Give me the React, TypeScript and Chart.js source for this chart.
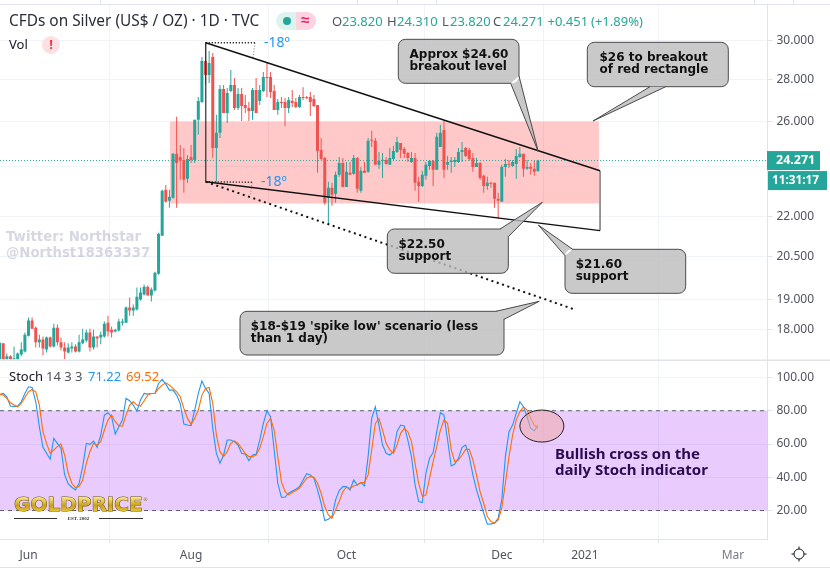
import React, { useEffect, useRef } from "react";
import { Chart, registerables } from "chart.js";

Chart.register(...registerables);

const opens = [17.09,17.58,17.09,17.18,17.09,17.09,17.24,17.33,
17.82,18.30,18.07,17.61,17.70,17.39,17.76,17.48,18.07,17.61,
17.45,17.30,17.42,17.48,17.33,17.58,17.67,17.92,17.45,17.79,
17.76,17.79,18.23,18.01,17.95,17.98,18.23,18.23,18.73,18.63,
18.66,18.99,19.16,19.43,19.13,19.30,19.88,21.26,23.05,22.61,
22.73,24.56,24.43,24.30,23.50,24.43,24.30,26.08,26.92,28.93,
28.23,29.14,24.82,25.49,27.54,26.40,27.44,27.73,26.63,27.30,
26.77,26.63,26.49,27.49,26.96,27.44,28.13,28.13,27.44,26.54,
26.92,26.92,26.63,26.96,26.92,26.68,27.15,27.13,27.15,27.06,
26.77,24.73,24.38,22.73,23.13,22.89,23.67,24.17,23.17,23.75,
23.71,24.38,23.01,23.84,23.80,25.17,25.13,24.09,24.26,24.30,
24.09,24.34,24.64,25.04,24.77,24.60,24.21,24.38,23.38,23.21,
23.63,24.04,24.26,23.88,24.86,25.62,24.09,24.21,24.21,24.21,
24.64,24.82,24.73,24.38,24.00,24.17,23.63,23.21,23.34,23.34,
22.69,22.57,24.00,24.13,24.04,24.13,24.43,24.56,23.92,24.00,
23.92,23.82];
const closes = [17.60,17.09,17.18,17.09,17.12,17.27,17.39,17.85,
18.30,18.04,17.61,17.70,17.42,17.76,17.48,18.07,17.61,17.45,
17.33,17.45,17.48,17.33,17.61,17.70,17.92,17.45,17.79,17.73,
17.85,18.20,17.95,17.92,18.01,18.27,18.27,18.73,18.63,18.73,
19.09,19.23,19.43,19.13,19.33,19.91,21.33,23.01,22.57,22.77,
24.56,24.17,24.26,23.46,24.34,24.30,26.08,26.96,28.93,28.23,
28.83,24.82,25.49,27.54,26.40,27.34,27.73,26.63,27.30,26.73,
26.63,26.49,27.49,26.40,27.49,28.13,28.08,27.39,26.54,26.92,
26.87,26.63,27.01,26.87,26.68,27.15,27.11,27.09,26.92,26.73,
24.69,24.34,22.53,23.13,22.85,23.67,24.17,23.17,23.80,23.67,
24.38,23.09,23.84,23.75,25.13,25.13,24.09,24.26,24.30,24.13,
24.38,24.69,25.08,24.73,24.56,24.38,24.38,23.34,23.21,23.67,
24.09,24.26,23.88,25.31,25.49,23.88,24.21,24.26,24.30,24.64,
24.73,24.47,24.34,24.00,24.17,23.54,23.21,23.34,23.30,22.69,
22.61,24.00,24.13,24.09,24.21,24.47,24.56,23.92,24.00,23.92,
23.80,24.271];
const highs = [17.61,17.58,17.27,17.21,17.48,17.30,17.61,17.92,
18.40,18.40,18.11,17.85,17.79,17.79,17.79,18.20,18.17,17.76,
17.61,17.58,17.61,17.55,17.85,18.04,18.01,18.04,18.01,17.79,
17.95,18.27,18.46,18.11,18.04,18.36,18.36,18.76,19.06,18.83,
19.40,19.40,19.50,19.47,19.40,19.95,21.37,23.05,23.25,23.05,
24.60,26.22,24.95,24.82,24.51,24.95,26.08,27.15,29.14,29.92,
29.45,29.35,26.31,27.73,27.73,27.59,28.48,28.08,27.59,27.59,
27.25,26.92,27.59,28.08,27.73,28.38,28.88,28.38,27.73,27.06,
27.15,27.11,27.15,27.49,27.11,27.25,27.63,27.20,27.39,27.25,
26.77,25.26,24.43,23.38,23.34,23.80,24.43,24.38,24.21,24.21,
24.51,24.43,24.00,24.21,25.26,25.58,25.26,24.64,24.60,24.43,
24.82,24.91,25.31,25.04,24.86,24.64,24.64,24.60,23.59,23.84,
24.21,24.30,24.30,25.49,25.85,26.03,24.47,24.43,24.43,24.82,
25.08,24.86,24.82,24.60,24.38,24.21,23.67,23.59,23.38,23.34,
22.93,24.09,24.34,24.30,24.30,24.77,24.86,24.56,24.30,24.17,
24.26,24.31];
const lows = [17.09,17.09,17.09,17.09,17.09,17.09,17.18,17.30,
17.79,18.04,17.45,17.45,17.21,17.30,17.45,17.45,17.51,17.36,
17.09,17.27,17.30,17.30,17.30,17.55,17.61,17.33,17.39,17.45,
17.55,17.76,17.79,17.76,17.92,17.95,18.14,18.23,18.46,18.46,
18.63,18.95,19.13,19.13,18.93,19.26,19.84,21.26,22.53,22.33,
22.69,22.33,23.46,22.93,23.34,24.17,24.17,25.40,26.87,27.73,
27.83,24.38,23.38,25.26,26.40,25.94,27.39,26.54,26.54,26.03,
26.40,26.03,26.08,26.40,26.77,27.39,27.15,27.11,26.54,26.31,
26.63,25.80,26.40,26.68,26.63,26.63,27.01,27.06,26.26,26.68,
23.75,24.30,22.45,21.67,22.41,22.53,23.59,23.17,23.17,23.67,
23.67,22.93,22.93,23.75,23.75,24.86,24.09,23.92,23.54,24.09,
24.09,24.26,24.60,24.38,24.38,24.21,24.17,23.01,22.57,23.17,
23.46,23.88,23.21,23.88,24.86,23.54,23.88,23.75,24.00,24.17,
24.21,24.43,24.26,23.80,24.00,23.46,22.93,23.05,23.13,22.33,
21.91,22.57,23.59,23.96,24.00,23.50,24.38,23.59,23.88,23.67,
23.63,23.82];

const stochK = [89.8,90.4,88.4,82.8,82.4,82.8,85.4,90.4,
94.4,94,85.4,70.4,58,54.4,50.8,63.4,60.4,57.4,
41.4,36,34,32.4,36.4,46.4,60.4,59.8,61.8,58,
65.4,77.4,78.8,76.4,66,70.4,74.4,87.4,86,83.4,
79.8,86.4,90.4,90,90.4,90.4,96.4,98.8,96,92.4,
92.4,89.4,84.4,72,71.4,71,80.4,90.4,97.8,93.4,
90.4,69.4,54.4,48.4,53.4,62.4,62.4,61.4,59.4,54.4,
53.8,50,53.4,53.8,62.4,72.4,79.8,76.4,56.4,36.4,
28,28,30.4,31.8,32.8,34.4,38.4,42.2,41.4,39.4,
32.4,24.4,14,14.8,16.4,26.4,32,34.4,34.4,32.4,
38.4,35.4,36.8,34.8,52.4,75.4,82.4,71.4,59.4,54.4,
53.4,55.4,67.4,71.4,70.8,62.4,52.4,35.4,25.4,24.8,
42.4,51.4,54.8,67.4,78.8,77.4,62.4,46.8,48,51.4,
58,59.4,52.4,41.4,32.4,25.4,18.4,11.8,12,12.4,
15.4,26.4,52.4,67.4,71.4,78.4,85.4,82.4,76.4,69.4,
68,71.22];
const stochD = [89.8,89.4,87.4,84.8,83.4,82.4,84.4,88,
91.4,92.8,91.4,83.4,67.4,60.4,54.4,56.4,58.4,60,
53.4,42.4,36.4,33.8,34.4,38.4,48.4,55.4,60.4,59.4,
61.4,68.4,74.4,77.4,73.4,71,70.8,77.4,83.4,85.4,
83.4,82.8,86,89.4,90.4,90.4,93.4,95.4,96.8,95.4,
93.4,91.4,88.4,81.4,75.4,71.8,75.4,80.4,89.4,93.4,
94,84.4,65.4,55.4,52.4,55.4,60.4,61.8,60.4,57.4,
54.4,52.4,52.4,53.4,57.4,64.4,72.4,75.4,68.4,52.4,
37.4,31.4,29.4,30.8,32,33.4,36.4,39.4,40.4,40,
36.4,30.4,22.4,17.4,15.4,20.4,25.4,31.4,34,33.4,
34.8,35.4,36.8,36.8,41.4,56.4,72.4,75.4,68.4,60.4,
56.4,54.4,59.4,66.4,69.4,67.4,61.4,48.4,36.4,28.4,
29.4,39.4,49.4,58.4,68.4,74.4,72.4,56.4,49.4,50.4,
53.4,56.8,56.8,50.4,41.4,31.4,24.4,16.4,13.4,12.4,
14.4,21.4,36.4,52.4,65.4,74.4,79.4,82.4,80.4,75.4,
71.4,69.52];

const firstBarIndex = -8;
const priceTicks = [30, 28, 26, 24, 22, 20.5, 19, 18];
const stochTicks = [100, 80, 60, 40, 20];
const timeTickBars = [0, 45, 88, 131, 154, 195];
const timeTickLabels = ["Jun", "Aug", "Oct", "Dec", "2021", "Mar"];
const lastPrice = 24.271;

// trend lines: bar index, price
const upperTrend = [{ x: 49.05, y: 29.88 }, { x: 158.2, y: 23.84 }];
const lowerTrend = [{ x: 49.05, y: 23.38 }, { x: 158.2, y: 21.45 }];
const leftEdge = [{ x: 49.05, y: 29.88 }, { x: 49.05, y: 23.38 }];
const rightEdge = [{ x: 158.2, y: 23.84 }, { x: 158.2, y: 21.45 }];
const spikeTrend = [{ x: 49.05, y: 23.38 }, { x: 151.2, y: 18.66 }];
const upperAngleRun = [{ x: 49.05, y: 29.88 }, { x: 62.7, y: 29.88 }];
const upperAngleDrop = [{ x: 62.7, y: 29.88 }, { x: 62.1, y: 29.08 }];
const lowerAngleRun = [{ x: 49.05, y: 23.38 }, { x: 61.9, y: 23.36 }];
const lowerAngleDrop = [{ x: 61.9, y: 23.36 }, { x: 61.4, y: 22.81 }];
const redRectangle = { x0: 39.16, x1: 157.9, top: 26, bottom: 22.5 };

const UP = "#26a69a";
const DOWN = "#ef5350";
const GRID = "#f0f3fa";
const EDGE = "#e0e3eb";
const TEXT = "#131722";
const UI = "'Noto Sans', sans-serif";
const BOLD = "bold 12px 'DejaVu Sans', sans-serif";

type Callout = {
  box: [number, number, number, number];
  pointer: [number, number, number, number, number, number];
  text: string[];
  tx: number;
  ty: number;
};
const callouts: Callout[] = [
  { box: [398.3, 39.3, 519, 83.3], pointer: [510.7, 83.3, 519, 76, 538.3, 151.7], text: ["Approx $24.60", "breakout level"], tx: 409.5, ty: 55 },
  { box: [587.3, 42.3, 728.3, 86.7], pointer: [650, 86.7, 665.7, 86.7, 593, 121], text: ["$26 to breakout", "of red rectangle"], tx: 599.5, ty: 57.5 },
  { box: [387.3, 229, 508.3, 273.3], pointer: [500, 229, 508.3, 236.7, 542.3, 202.3], text: ["$22.50", "support"], tx: 398.5, ty: 244.5 },
  { box: [565, 249.3, 685.7, 293.3], pointer: [572.7, 249.3, 565, 255.7, 538.3, 225], text: ["$21.60", "support"], tx: 575.7, ty: 264.7 },
  { box: [240, 311.3, 504, 355], pointer: [496, 311.3, 504, 319.3, 539.3, 301.3], text: ["$18-$19 'spike low' scenario (less", "than 1 day)"], tx: 250.7, ty: 326.7 },
];

function drawCallout(ctx: CanvasRenderingContext2D, c: Callout) {
  const [x0, y0, x1, y1] = c.box;
  const [ax, ay, bx, by, tipx, tipy] = c.pointer;
  const r = 7;
  ctx.save();
  ctx.fillStyle = "rgba(187,187,187,0.8)";
  ctx.beginPath();
  ctx.roundRect(x0, y0, x1 - x0, y1 - y0, r);
  ctx.moveTo(ax, ay);
  ctx.lineTo(tipx, tipy);
  ctx.lineTo(bx, by);
  ctx.closePath();
  ctx.fill("nonzero");
  ctx.strokeStyle = "#4a4a4a";
  ctx.lineWidth = 1;
  ctx.beginPath();
  ctx.moveTo(ax, ay);
  ctx.lineTo(tipx, tipy);
  ctx.lineTo(bx, by);
  ctx.stroke();
  // outline of the box, open where the pointer leaves it
  ctx.save();
  ctx.beginPath();
  ctx.rect(0, 0, 830, 570);
  ctx.moveTo(ax, ay);
  ctx.lineTo(tipx, tipy);
  ctx.lineTo(bx, by);
  ctx.closePath();
  ctx.clip("evenodd");
  ctx.beginPath();
  ctx.roundRect(x0, y0, x1 - x0, y1 - y0, r);
  ctx.stroke();
  ctx.restore();
  ctx.fillStyle = "#111";
  ctx.font = BOLD;
  ctx.textBaseline = "middle";
  ctx.textAlign = "left";
  c.text.forEach((t, i) => ctx.fillText(t, c.tx, c.ty + i * 12));
  ctx.restore();
}

function put(ctx: CanvasRenderingContext2D, t: string, x: number, y: number, font: string, color: string, align: CanvasTextAlign = "left") {
  ctx.font = font;
  ctx.fillStyle = color;
  ctx.textAlign = align;
  ctx.textBaseline = "middle";
  ctx.fillText(t, x, y);
}

const overlay = {
  id: "overlay",
  beforeDatasetsDraw(chart: any) {
    const { ctx, scales } = chart;
    const { x, y, yS } = scales;
    ctx.save();
    // red rectangle
    ctx.fillStyle = "rgba(255,0,0,0.21)";
    const rx0 = x.getPixelForValue(redRectangle.x0);
    const rx1 = x.getPixelForValue(redRectangle.x1);
    const ry0 = y.getPixelForValue(redRectangle.top);
    const ry1 = y.getPixelForValue(redRectangle.bottom);
    ctx.fillRect(rx0, ry0, rx1 - rx0, ry1 - ry0);
    // stoch band
    const y80 = yS.getPixelForValue(80);
    const y20 = yS.getPixelForValue(20);
    ctx.fillStyle = "rgba(145,0,245,0.2)";
    ctx.fillRect(0, y80, 767.5, y20 - y80);
    ctx.strokeStyle = "#5d606b";
    ctx.lineWidth = 1;
    ctx.setLineDash([4, 4]);
    ctx.beginPath();
    ctx.moveTo(0, y80); ctx.lineTo(767.5, y80);
    ctx.moveTo(0, y20); ctx.lineTo(767.5, y20);
    ctx.stroke();
    // last price
    const lp = y.getPixelForValue(lastPrice);
    ctx.strokeStyle = UP;
    ctx.setLineDash([1, 2]);
    ctx.beginPath();
    ctx.moveTo(0, lp); ctx.lineTo(767.5, lp);
    ctx.stroke();
    ctx.restore();
  },
  afterDraw(chart: any) {
    const { ctx, scales } = chart;
    const { y, yS, x } = scales;
    ctx.save();
    // frame
    ctx.fillStyle = EDGE;
    ctx.fillRect(0, 4, 830, 1);
    ctx.fillRect(0, 567, 830, 1);
    ctx.fillRect(0, 359.5, 830, 1.5);
    [100, 357, 397, 436, 754, 793].forEach((px) => ctx.fillRect(px, 0, 1, 4));

    // header
    put(ctx, "CFDs on Silver (US$ / OZ) · 1D · TVC", 9, 22, `15.4px ${UI}`, "#2a2e39");
    ctx.fillStyle = "#dcf3ef";
    ctx.beginPath();
    ctx.roundRect(276, 12, 20, 18, [9, 0, 0, 9]);
    ctx.fill();
    ctx.fillStyle = "#fcd3de";
    ctx.beginPath();
    ctx.roundRect(296, 12, 20, 18, [0, 9, 9, 0]);
    ctx.fill();
    ctx.fillStyle = UP;
    ctx.beginPath();
    ctx.arc(287, 21, 4, 0, Math.PI * 2);
    ctx.fill();
    put(ctx, "≈", 305, 21, `bold 15px ${UI}`, "#e91e63", "center");
    const f = `13px ${UI}`;
    const grey = "#50535e";
    put(ctx, "O", 332, 22, f, grey);
    put(ctx, "23.820", 342, 22, f, UP);
    put(ctx, "H", 387, 22, f, grey);
    put(ctx, "24.310", 397, 22, f, UP);
    put(ctx, "L", 442, 22, f, grey);
    put(ctx, "23.820", 450, 22, f, UP);
    put(ctx, "C", 493, 22, f, grey);
    put(ctx, "24.271", 503, 22, f, UP);
    put(ctx, "+0.451", 547.5, 22, f, UP);
    put(ctx, "(+1.89%)", 591, 22, f, UP);

    // Vol
    put(ctx, "Vol", 9, 45, `13px ${UI}`, TEXT);
    ctx.fillStyle = "#fde0e2";
    ctx.beginPath();
    ctx.arc(51, 45, 9, 0, Math.PI * 2);
    ctx.fill();
    put(ctx, "!", 51, 45, `bold 13px ${UI}`, "#f23645", "center");

    // Stoch legend
    put(ctx, "Stoch", 9, 377, f, TEXT);
    put(ctx, "14 3 3", 46, 377, f, grey);
    put(ctx, "71.22", 88, 377, f, "#2196f3");
    put(ctx, "69.52", 126, 377, f, "#ff6d00");

    // angle labels
    put(ctx, "-18º", 264, 43, `14px ${UI}`, "#2196f3");
    put(ctx, "-18º", 261, 182, `14px ${UI}`, "#2196f3");

    // watermark
    put(ctx, "Twitter: Northstar", 6, 238, "bold 13.3px 'DejaVu Sans', sans-serif", "rgba(120,123,160,0.3)");
    put(ctx, "@Northst18363337", 6, 254, "bold 13.3px 'DejaVu Sans', sans-serif", "rgba(120,123,160,0.3)");

    // callouts
    callouts.forEach((c) => drawCallout(ctx, c));

    // ellipse
    const ex = x.getPixelForValue(142.1);
    const ey = yS.getPixelForValue(70.8);
    ctx.beginPath();
    ctx.ellipse(ex, ey, 22, 16, 0, 0, Math.PI * 2);
    ctx.fillStyle = "rgba(240,170,170,0.55)";
    ctx.fill();
    ctx.strokeStyle = "#222";
    ctx.lineWidth = 1;
    ctx.stroke();

    put(ctx, "Bullish cross on the", 555, 455, `bold 15px ${UI}`, "#2a0a50");
    put(ctx, "daily Stoch indicator", 555, 471, `bold 15px ${UI}`, "#2a0a50");

    // logo
    const g = ctx.createLinearGradient(0, 498, 0, 513);
    g.addColorStop(0, "#f5e27a");
    g.addColorStop(0.5, "#c8a218");
    g.addColorStop(1, "#f0d040");
    ctx.font = "bold 20px 'DejaVu Sans', sans-serif";
    ctx.textBaseline = "middle";
    ctx.textAlign = "left";
    ctx.lineWidth = 1;
    ctx.strokeStyle = "#6b5200";
    ctx.strokeText("GOLDPRICE", 14, 505.5);
    ctx.fillStyle = g;
    ctx.fillText("GOLDPRICE", 14, 505.5);
    put(ctx, "®", 143, 500, "5px 'DejaVu Sans', sans-serif", "#8a6d10");
    ctx.fillStyle = "#333";
    ctx.fillRect(14, 518, 43, 1);
    ctx.fillRect(99, 518, 44, 1);
    put(ctx, "EST. 2002", 78.5, 518.5, "bold 5px 'Liberation Serif', serif", "#333", "center");

    // price labels
    const lp = y.getPixelForValue(lastPrice);
    ctx.fillStyle = UP;
    ctx.fillRect(767, lp - 9.5, 53, 19);
    ctx.fillRect(768, lp + 10.5, 59, 19);
    put(ctx, "24.271", 776, lp + 0.3, `bold 12.5px ${UI}`, "#fff");
    put(ctx, "11:31:17", 772, lp + 20.3, `bold 11.8px ${UI}`, "#fff");

    // gear
    const gx = 799, gy = 554;
    ctx.strokeStyle = TEXT;
    ctx.lineWidth = 1;
    ctx.beginPath();
    ctx.arc(gx, gy, 5, 0, Math.PI * 2);
    for (let i = 0; i < 8; i += 2) {
      const a = (i * Math.PI) / 4;
      ctx.moveTo(gx + Math.cos(a) * 5, gy + Math.sin(a) * 5);
      ctx.lineTo(gx + Math.cos(a) * 7.5, gy + Math.sin(a) * 7.5);
    }
    ctx.stroke();
    ctx.restore();
  },
};

const noPad = (s: any) => {
  s.paddingTop = 0;
  s.paddingBottom = 0;
  s.paddingLeft = 0;
  s.paddingRight = 0;
};

export default function App() {
  const ref = useRef<HTMLCanvasElement | null>(null);
  useEffect(() => {
    document.body.style.margin = "0";
    const barX = (k: number) => k + firstBarIndex;
    const colors = closes.map((c, k) => (c >= opens[k] ? UP : DOWN));
    const trend = (data: any[], color: string, width: number, dash: number[] = [], order = 3) => ({
      type: "line" as const,
      data,
      xAxisID: "x",
      yAxisID: "y",
      borderColor: color,
      borderWidth: width,
      borderDash: dash,
      pointRadius: 0,
      order,
    });
    const chart = new Chart(ref.current as HTMLCanvasElement, {
      type: "bar",
      data: {
        datasets: [
          trend(upperTrend, "#111", 1.4),
          trend(lowerTrend, "#111", 1.4),
          trend(leftEdge, "rgba(40,40,40,0.8)", 1.5),
          trend(rightEdge, "#777", 1.5),
          trend(spikeTrend, "#111", 2, [2, 3.6]),
          trend(upperAngleRun, "#222", 1.4, [1.2, 1.8]),
          trend(upperAngleDrop, "#999", 1.2, [1.2, 1.6]),
          trend(lowerAngleRun, "#222", 1.4, [1.2, 1.8]),
          trend(lowerAngleDrop, "#999", 1.2, [1.2, 1.6]),
          {
            type: "bar",
            data: lows.map((l, k) => ({ x: barX(k), y: [l, highs[k]] })),
            backgroundColor: colors,
            barThickness: 1,
            grouped: false,
            borderWidth: 0,
            inflateAmount: 0,
            yAxisID: "y",
            xAxisID: "x",
            order: 6,
          },
          {
            type: "bar",
            data: opens.map((o, k) => ({ x: barX(k), y: [o, closes[k]] })),
            backgroundColor: colors,
            barThickness: 3,
            minBarLength: 1,
            grouped: false,
            borderWidth: 0,
            inflateAmount: 0,
            yAxisID: "y",
            xAxisID: "x",
            order: 5,
          },
          {
            type: "line",
            data: stochK.map((v, k) => ({ x: barX(k), y: v })),
            borderColor: "#2196f3",
            borderWidth: 1.1,
            pointRadius: 0,
            yAxisID: "yS",
            xAxisID: "x",
            order: 2,
          },
          {
            type: "line",
            data: stochD.map((v, k) => ({ x: barX(k), y: v })),
            borderColor: "#ff6d00",
            borderWidth: 1.1,
            pointRadius: 0,
            yAxisID: "yS",
            xAxisID: "x",
            order: 1,
          },
        ] as any,
      },
      options: {
        responsive: false,
        animation: false,
        devicePixelRatio: 1,
        layout: { padding: { top: 5, bottom: 3, left: 0, right: 0 } },
        plugins: { legend: { display: false }, tooltip: { enabled: false } },
        events: [],
        scales: {
          x: {
            type: "linear",
            position: "bottom",
            min: -7.89,
            max: 204.55,
            offset: false,
            grid: { color: GRID, tickColor: EDGE, tickLength: 4, lineWidth: 1 },
            border: { color: EDGE },
            afterBuildTicks: (s: any) => { s.ticks = timeTickBars.map((value) => ({ value })); },
            afterFit: (s: any) => { s.height = 28; noPad(s); },
            ticks: {
              autoSkip: false,
              maxRotation: 0,
              padding: 5,
              color: (c: any) => (c.index === 5 ? "#787b86" : "#50535e"),
              font: { family: "'Noto Sans', sans-serif", size: 12 },
              callback: (_v: any, i: number) => timeTickLabels[i],
            },
          },
          y: {
            type: "logarithmic",
            position: "right",
            stack: "panes",
            stackWeight: 355,
            min: 17.07,
            max: 31.94,
            grid: { color: GRID, tickColor: EDGE, tickLength: 5 },
            border: { color: EDGE },
            afterBuildTicks: (s: any) => { s.ticks = priceTicks.map((value) => ({ value })); },
            afterFit: (s: any) => { s.width = 62.5; noPad(s); },
            ticks: {
              autoSkip: false,
              padding: 4,
              color: "#50535e",
              font: { family: "'Noto Sans', sans-serif", size: 12 },
              callback: (v: any) => Number(v).toFixed(3),
            },
          },
          yS: {
            type: "linear",
            position: "right",
            stack: "panes",
            stackWeight: 179,
            min: 2.9,
            max: 110.5,
            grid: { color: GRID, tickColor: EDGE, tickLength: 5 },
            border: { color: EDGE },
            afterBuildTicks: (s: any) => { s.ticks = stochTicks.map((value) => ({ value })); },
            afterFit: (s: any) => { s.width = 62.5; noPad(s); },
            ticks: {
              autoSkip: false,
              padding: 4,
              color: "#50535e",
              font: { family: "'Noto Sans', sans-serif", size: 12 },
              callback: (v: any) => Number(v).toFixed(2),
            },
          },
        },
      } as any,
      plugins: [overlay],
    });
    return () => chart.destroy();
  }, []);
  return (
    <div style={{ position: "absolute", left: 0, top: 0, width: 830, height: 570 }}>
      <canvas ref={ref} width={830} height={570} style={{ display: "block" }} />
    </div>
  );
}
